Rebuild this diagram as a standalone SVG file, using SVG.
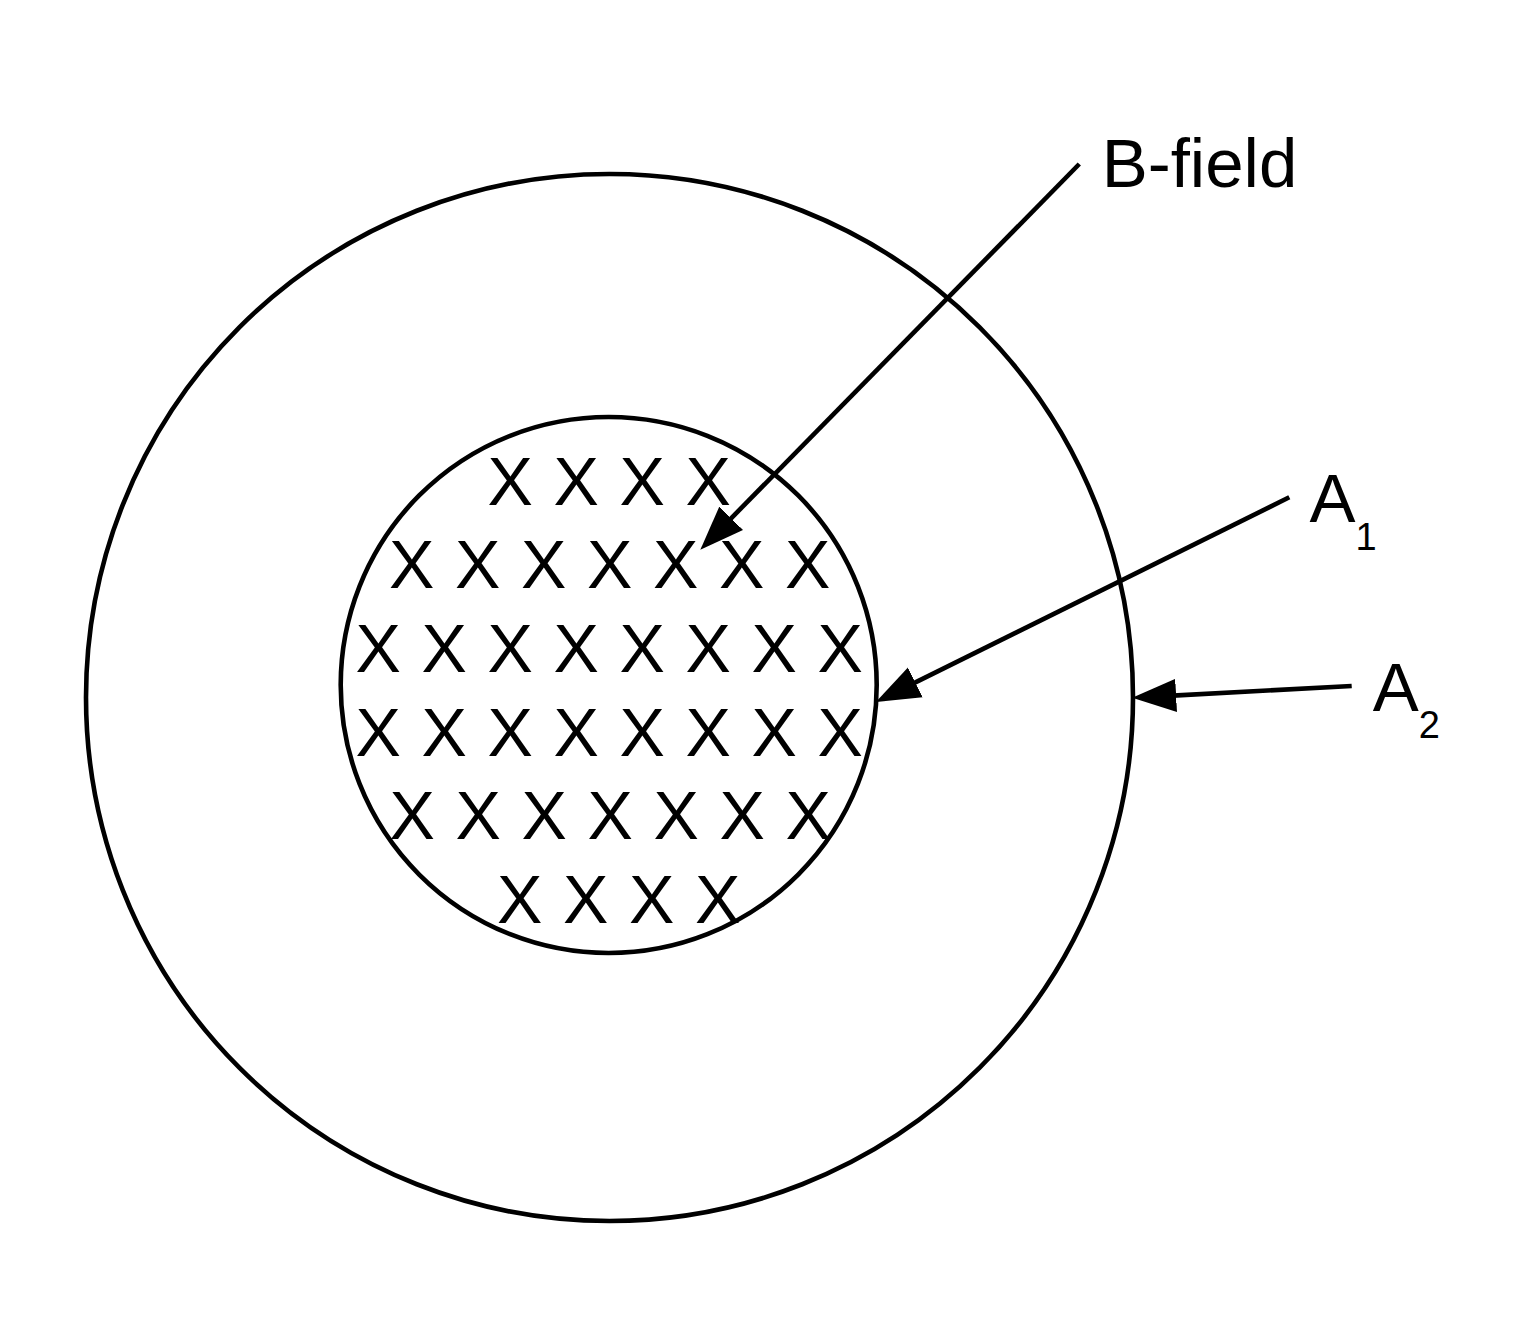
<svg xmlns="http://www.w3.org/2000/svg" width="1530" height="1344" viewBox="0 0 1530 1344">
<style>
.ring{fill:none;stroke:#000;stroke-width:4.6}
.conn{fill:none;stroke:#000;stroke-width:4.6;stroke-linecap:butt}
.lbl{font-family:"Liberation Sans",Arial,Helvetica,sans-serif;font-size:69px;fill:#000}
.xs{font-family:"Liberation Sans",Arial,Helvetica,sans-serif;font-size:68px;fill:#000;letter-spacing:0.87px;white-space:pre}
</style>
<defs>
<marker id="arr" markerUnits="userSpaceOnUse" markerWidth="44" markerHeight="34" viewBox="0 0 41 31" refX="3" refY="15.5" orient="auto">
<path d="M0,0 L41,15.5 L0,31 Z" fill="#000"/>
</marker>
</defs>
<rect width="1530" height="1344" fill="#fff"/>
<g id="outer-circle"><circle class="ring" cx="609.5" cy="697.5" r="523.5"/></g>
<g id="inner-circle">
<circle class="ring" cx="608.7" cy="685" r="268"/>
<text class="xs" x="487.5" y="505">X X X X</text>
<text class="xs" x="389" y="588.3">X X X X X X X</text>
<text class="xs" x="355.5" y="671.7">X X X X X X X X</text>
<text class="xs" x="355.5" y="755.5">X X X X X X X X</text>
<text class="xs" x="389.5" y="839.3">X X X X X X X</text>
<text class="xs" x="497" y="923.3">X X X X</text>
</g>
<g id="label-bfield"><text class="lbl" x="1101.7" y="187.3">B-field</text></g>
<g id="label-a1"><text class="lbl" x="1309.5" y="522.3">A<tspan font-size="38" dy="27.7">1</tspan></text></g>
<g id="label-a2"><text class="lbl" x="1372.7" y="710.7">A<tspan font-size="38" dy="27.6">2</tspan></text></g>
<g id="connectors">
<line class="conn" x1="1079.3" y1="164" x2="728.9" y2="520.6" marker-end="url(#arr)"/>
<line class="conn" x1="1289.3" y1="497.3" x2="912.4" y2="683.85" marker-end="url(#arr)"/>
<line class="conn" x1="1351.7" y1="686" x2="1172.9" y2="695.65" marker-end="url(#arr)"/>
</g>
</svg>
